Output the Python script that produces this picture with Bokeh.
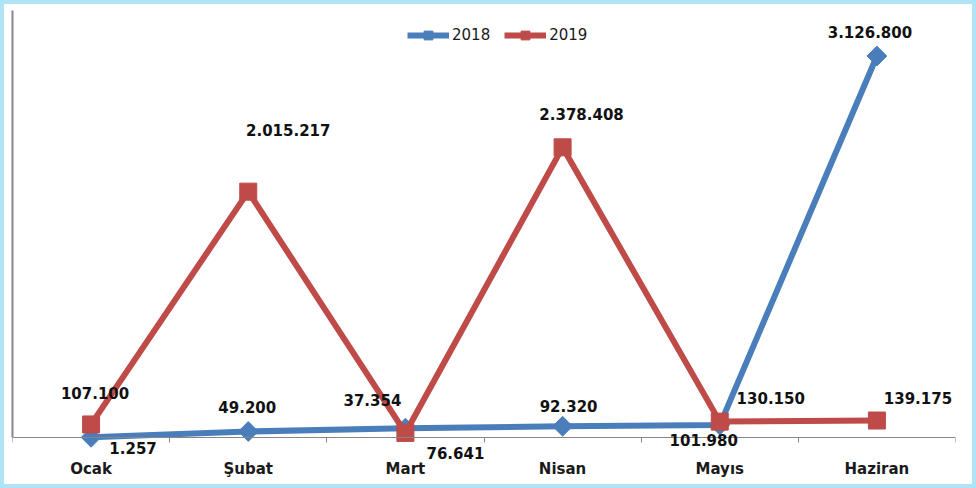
import numpy as np
from bokeh.plotting import figure
from bokeh.models import ColumnDataSource, FixedTicker, Legend, LegendItem, Range1d, Label
from bokeh.embed import file_html
from bokeh.resources import INLINE

months = ["Ocak", "Şubat", "Mart", "Nisan", "Mayıs", "Haziran"]
series_names = ["2018", "2019"]
v2018 = [1257, 49200, 76641, 92320, 101980, 3126800]
v2019 = [107100, 2015217, 37354, 2378408, 130150, 139175]

# label offsets in screen pixels (style only; y positive = up)
off2018_x = [42, -1, 50, 6, -16, -7]
off2018_y = [-11, 24, -25, 20, -15, 24]
off2019_x = [4, 40, -33, 19, 51, 41]
off2019_y = [31, 62, 33, 33, 24, 23]

BLUE = "#4a7ebb"
RED = "#be4b48"
FONT = "DejaVu Sans"

Y_TOP = 3500000
# frame: 474 px tall, zero line 47 px above its bottom
Y_BOTTOM = -Y_TOP * 47 / 427

xs = [i + 0.5 for i in range(len(months))]

def fmt(v):
    return f"{v:,}".replace(",", ".")

p = figure(width=968, height=480, output_backend="svg", toolbar_location=None,
           x_range=Range1d(0, len(months)), y_range=Range1d(Y_BOTTOM, Y_TOP),
           min_border_left=8, min_border_right=25, min_border_top=6, min_border_bottom=8)
p.styles = {"border": "4px solid #aee4f6", "box-sizing": "content-box"}
p.outline_line_color = None
p.xgrid.visible = False
p.ygrid.visible = False
p.background_fill_color = "white"
p.border_fill_color = "white"

src18 = ColumnDataSource(dict(x=xs, y=v2018))
src19 = ColumnDataSource(dict(x=xs, y=v2019))

l18 = p.line("x", "y", source=src18, line_color=BLUE, line_width=6)
m18 = p.scatter("x", "y", source=src18, marker="square", angle=np.pi / 4, size=14,
                fill_color=BLUE, line_color=BLUE)
l19 = p.line("x", "y", source=src19, line_color=RED, line_width=6)
m19 = p.scatter("x", "y", source=src19, marker="square", size=17,
                fill_color=RED, line_color=RED)

for vals, ox, oy in ((v2018, off2018_x, off2018_y), (v2019, off2019_x, off2019_y)):
    for x, v, dx, dy in zip(xs, vals, ox, oy):
        p.add_layout(Label(x=x, y=v, text=fmt(v), x_offset=dx, y_offset=dy,
                           text_align="center", text_baseline="middle",
                           text_font=FONT, text_font_style="bold", text_font_size="15px",
                           text_color="#111111"))

xa = p.xaxis[0]
xa.fixed_location = 0
xa.ticker = FixedTicker(ticks=xs, minor_ticks=list(range(len(months) + 1)))
xa.major_label_overrides = {x: m for x, m in zip(xs, months)}
xa.major_tick_line_color = None
xa.major_tick_out = 0
xa.minor_tick_in = 0
xa.minor_tick_out = 5
xa.minor_tick_line_color = "#868686"
xa.axis_line_color = "#868686"
xa.axis_line_width = 1
xa.major_label_standoff = 17
xa.major_label_text_font = FONT
xa.major_label_text_font_style = "bold"
xa.major_label_text_font_size = "15px"
xa.major_label_text_color = "#1a1a1a"

ya = p.yaxis[0]
ya.bounds = (0, Y_TOP)
ya.major_tick_line_color = None
ya.minor_tick_line_color = None
ya.major_tick_out = 0
ya.major_tick_in = 0
ya.major_label_standoff = 0
ya.major_label_text_font_size = "0px"
ya.major_label_text_color = None
ya.axis_line_color = "#868686"
ya.axis_line_width = 2

legend = Legend(items=[LegendItem(label=series_names[0], renderers=[l18, m18]),
                       LegendItem(label=series_names[1], renderers=[l19, m19])],
                orientation="horizontal", location=(395, 438),
                glyph_width=42, glyph_height=22, label_height=22, label_standoff=3, spacing=14,
                padding=0, margin=0, border_line_color=None, background_fill_alpha=0,
                label_text_font=FONT, label_text_font_size="15px", label_text_color="#1a1a1a")
p.add_layout(legend)

open("out.html", "w").write(file_html(p, INLINE))
